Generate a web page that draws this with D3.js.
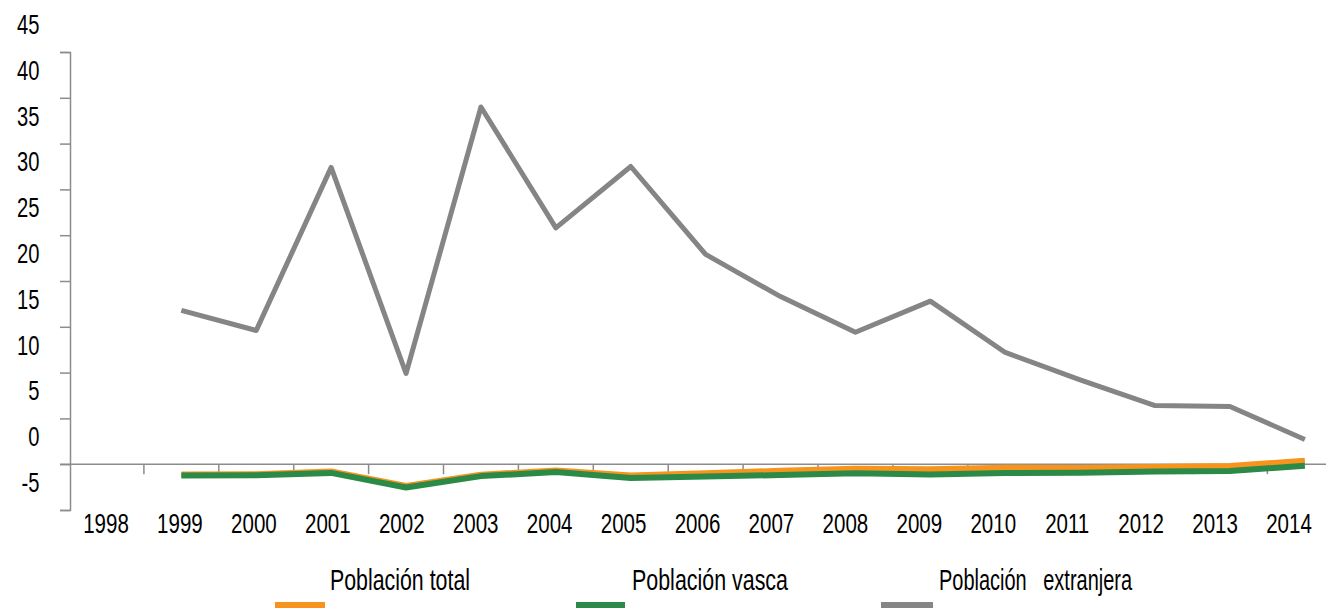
<!DOCTYPE html>
<html>
<head>
<meta charset="utf-8">
<script src="https://cdn.jsdelivr.net/npm/d3@7"></script>
<style>
  html, body { margin: 0; padding: 0; background: #fff; }
  svg { display: block; }
  text { font-family: "Liberation Sans", Arial, sans-serif; fill: #000; }
</style>
</head>
<body>
<svg id="chart" width="1326" height="608"></svg>
<script>
// ---- Data ----
const years = ["1998","1999","2000","2001","2002","2003","2004","2005","2006","2007","2008","2009","2010","2011","2012","2013","2014"];
const yTicks = [-5, 0, 5, 10, 15, 20, 25, 30, 35, 40, 45];
const seriesNames = ["Población total", "Población vasca", "Población   extranjera"];
const poblacionTotal = [null, -1.12, -1.1, -0.8, -2.38, -1.14, -0.69, -1.22, -0.98, -0.72, -0.5, -0.54, -0.38, -0.42, -0.3, -0.2, 0.38];
const poblacionVasca = [null, -1.22, -1.2, -0.95, -2.55, -1.3, -0.86, -1.5, -1.35, -1.18, -0.98, -1.12, -0.96, -0.92, -0.8, -0.74, -0.17];
const poblacionExtranjera = [null, 16.8, 14.6, 32.4, 9.9, 39.0, 25.8, 32.5, 22.9, 18.3, 14.4, 17.8, 12.2, 9.2, 6.4, 6.3, 2.7];
const colors = ["#F7941D", "#2B8A47", "#858585"];

// ---- Layout ----
const svg = d3.select("#chart");
const left = 69, band = 74.9;
const x = d3.scaleBand().domain(years).range([left, left + band * years.length]).padding(0);
// category labels are laid out on a slightly tighter pitch than the plotted points
const xLabel = d3.scalePoint().domain(years).range([106, 1289]);
const y = d3.scaleLinear().domain([-5, 45]).range([510, 52]);
const axisColor = "#8c8c8c";
const sx = 0.72;

// Y axis
const yAxis = svg.append("g").attr("transform", `translate(70,0)`)
  .call(d3.axisLeft(y).tickValues(yTicks).tickSize(10).tickFormat(""));
yAxis.select(".domain").attr("stroke", axisColor).attr("stroke-width", 1.5);
yAxis.selectAll(".tick line").attr("stroke", axisColor).attr("stroke-width", 1.5);

svg.append("g").selectAll("text").data(yTicks).join("text")
  .attr("transform", d => `translate(39.5,${y(d) - 18}) scale(${sx},1)`)
  .attr("text-anchor", "end")
  .attr("font-size", 28)
  .text(d => d);

// X axis line at 0
const xAxis = svg.append("g").attr("transform", `translate(0,${y(0)})`)
  .call(d3.axisBottom(x).tickSize(0).tickFormat(""));
xAxis.select(".domain").attr("stroke", axisColor).attr("stroke-width", 1.5)
  .attr("d", `M${60},0H${left + band * years.length}`);
xAxis.selectAll(".tick").remove();

// x ticks at band boundaries
const boundaries = years.slice(1).map(d => x(d));
svg.append("g").selectAll("line").data(boundaries).join("line")
  .attr("x1", d => d).attr("x2", d => d)
  .attr("y1", y(0)).attr("y2", y(0) + 10)
  .attr("stroke", axisColor).attr("stroke-width", 1.5);

// x labels
svg.append("g").selectAll("text").data(years).join("text")
  .attr("transform", d => `translate(${xLabel(d)},533) scale(${sx},1)`)
  .attr("text-anchor", "middle")
  .attr("font-size", 28.5)
  .text(d => d);

// Lines
const line = d3.line()
  .defined(d => d.v !== null)
  .x(d => x(d.year) + x.bandwidth() / 2)
  .y(d => y(d.v));

const toPts = arr => years.map((yr, i) => ({ year: yr, v: arr[i] }));

svg.append("path").datum(toPts(poblacionExtranjera))
  .attr("fill", "none").attr("stroke", colors[2]).attr("stroke-width", 5)
  .attr("stroke-linejoin", "round").attr("d", line);
svg.append("path").datum(toPts(poblacionTotal))
  .attr("fill", "none").attr("stroke", colors[0]).attr("stroke-width", 6)
  .attr("stroke-linejoin", "round").attr("d", line);
svg.append("path").datum(toPts(poblacionVasca))
  .attr("fill", "none").attr("stroke", colors[1]).attr("stroke-width", 6)
  .attr("stroke-linejoin", "round").attr("d", line);

// Legend
const legendSwatchX = [275, 576, 881];
const legendSwatchW = [50, 49, 52];
const legendTextX = [330, 632, 939];
const legendTextW = [140, 156, 193];
const lg = svg.append("g");
seriesNames.forEach((name, i) => {
  lg.append("rect").attr("x", legendSwatchX[i]).attr("y", 602)
    .attr("width", legendSwatchW[i]).attr("height", 10).attr("fill", colors[i]);
  lg.append("text").attr("x", legendTextX[i]).attr("y", 590)
    .attr("font-size", 30)
    .attr("textLength", legendTextW[i])
    .attr("lengthAdjust", "spacingAndGlyphs")
    .style("white-space", "pre")
    .text(name);
});
</script>
</body>
</html>
